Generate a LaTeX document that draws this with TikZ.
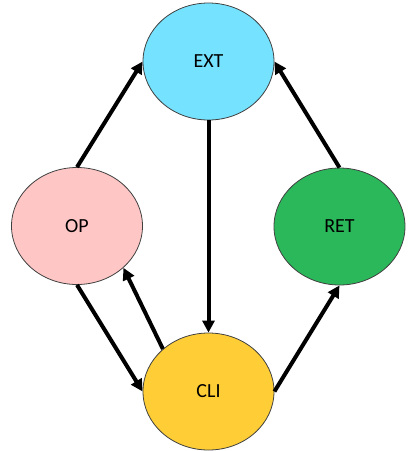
\documentclass[tikz,border=0pt]{standalone}
\usepackage{fontspec}
\setmainfont{Carlito}
\usetikzlibrary{shapes.geometric,arrows.meta}
\definecolor{extblue}{HTML}{75E2FF}
\definecolor{oppink}{HTML}{FFC6C6}
\definecolor{retgreen}{HTML}{2BB85B}
\definecolor{cliyellow}{HTML}{FFCD35}
\definecolor{rim}{HTML}{404040}
\tikzset{
  state/.style={ellipse, draw=rim, line width=0.8pt, minimum width=131pt,
    minimum height=117pt, inner sep=0pt, font=\fontsize{20}{24}\selectfont},
  link/.style={line width=4pt, -{Triangle[length=12pt,width=12pt]}}
}
\begin{document}
\begin{tikzpicture}[x=1pt,y=-1pt]
  \useasboundingbox (0,0) rectangle (410,451);
  % the four states
  \node[state, fill=extblue]   (ext) at (208.5,61.5)  {EXT};
  \node[state, fill=oppink]    (op)  at (77,226)      {OP};
  \node[state, fill=retgreen]  (ret) at (339.5,226.5) {RET};
  \node[state, fill=cliyellow] (cli) at (208.5,391.5) {CLI};
  % transitions
  \draw[link] (op.north)  -- (ext.west);
  \draw[link] (ret.north) -- (ext.east);
  \draw[link] (ext.south) -- (cli.north);
  \draw[link] (op.south)  -- (cli.west);
  \draw[link] (cli.137)   -- (op.-42);
  \draw[link] (cli.east)  -- (ret.south);
\end{tikzpicture}
\end{document}
